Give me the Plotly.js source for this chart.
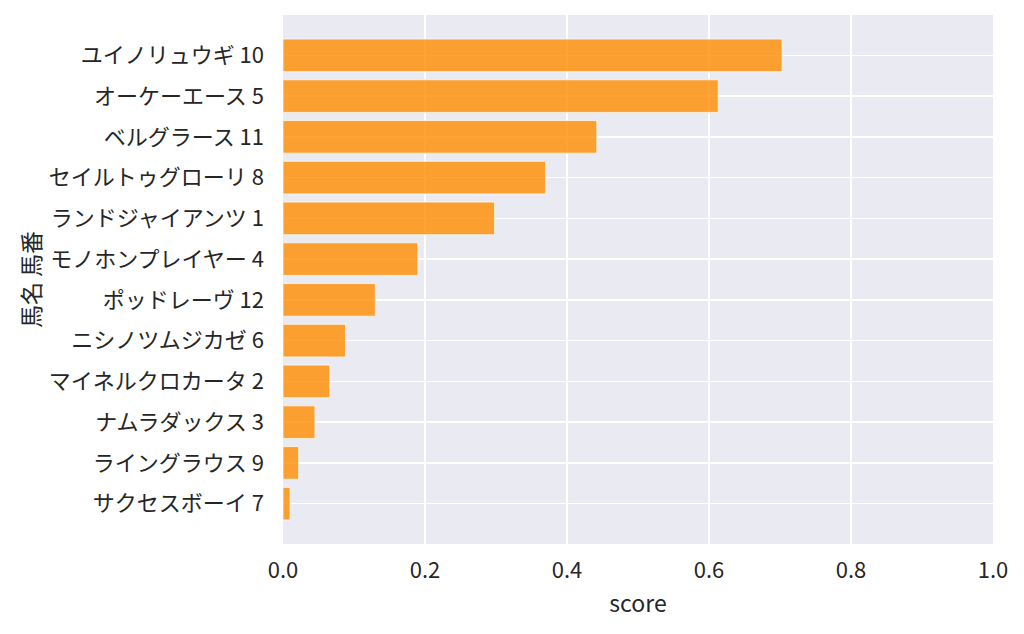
<!DOCTYPE html>
<html>
<head>
<meta charset="utf-8">
<script src="https://cdn.plot.ly/plotly-3.0.1.min.js"></script>
<style>
  html, body { margin: 0; padding: 0; background: #ffffff; }
  #chart { width: 1024px; height: 634px; }
</style>
</head>
<body>
<div id="chart"></div>
<script>
// horse names and post numbers, listed top to bottom
const horseNames = ['ユイノリュウギ', 'オーケーエース', 'ベルグラース', 'セイルトゥグローリ', 'ランドジャイアンツ',
    'モノホンプレイヤー', 'ポッドレーヴ', 'ニシノツムジカゼ', 'マイネルクロカータ', 'ナムラダックス',
    'ライングラウス', 'サクセスボーイ'];
const horseNumbers = [10, 5, 11, 8, 1, 4, 12, 6, 2, 3, 9, 7];
const scores = [0.703, 0.613, 0.442, 0.370, 0.298, 0.190, 0.130, 0.088, 0.066, 0.045, 0.022, 0.010];
const xTicks = [0, 0.2, 0.4, 0.6, 0.8, 1.0];

const labels = horseNames.map((n, i) => n + ' ' + horseNumbers[i]);

const textColor = '#262626';
const font = '"Noto Sans CJK JP", "Noto Sans", sans-serif';

const trace = {
    type: 'bar',
    orientation: 'h',
    x: scores,
    y: labels,
    marker: {
        color: 'rgba(255, 140, 0, 0.8)',
        line: { color: 'rgba(255, 255, 255, 0.7)', width: 1 }
    },
    hoverinfo: 'x+y'
};

const layout = {
    width: 1024,
    height: 634,
    margin: { l: 283, r: 31, t: 15, b: 90 },
    paper_bgcolor: '#ffffff',
    plot_bgcolor: '#eaeaf2',
    bargap: 0.2,
    showlegend: false,
    font: { family: font, color: textColor, size: 22 },
    xaxis: {
        range: [0, 1],
        tickvals: xTicks,
        ticktext: xTicks.map(v => v.toFixed(1)),
        showgrid: true,
        gridcolor: '#ffffff',
        gridwidth: 1.6,
        zeroline: false,
        showline: false,
        ticks: '',
        ticklabelstandoff: 11,
        tickfont: { size: 22, color: textColor },
        title: { text: 'score', font: { size: 23, color: textColor }, standoff: 12 },
        automargin: false
    },
    yaxis: {
        type: 'category',
        categoryorder: 'array',
        categoryarray: labels,
        range: [11.99, -0.99],
        showgrid: true,
        gridcolor: '#ffffff',
        gridwidth: 1.6,
        zeroline: false,
        showline: false,
        ticks: '',
        ticklabelstandoff: 18,
        tickfont: { size: 22, color: textColor },
        title: { text: '馬名 馬番', font: { size: 23, color: textColor }, standoff: 1 },
        automargin: false
    }
};

Plotly.newPlot('chart', [trace], layout, { displayModeBar: false, staticPlot: true });
</script>
</body>
</html>
